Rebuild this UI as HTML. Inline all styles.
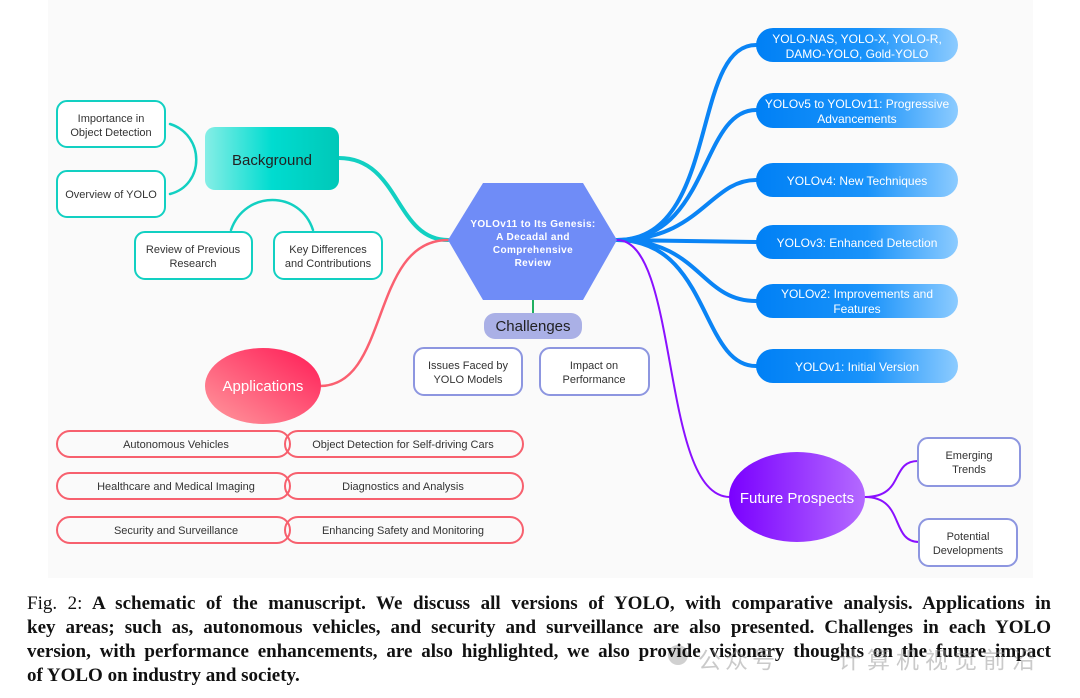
<!DOCTYPE html>
<html><head><meta charset="utf-8"><style>
body{margin:0;width:1080px;height:698px;background:#fff;overflow:hidden;position:relative;font-family:"Liberation Sans",sans-serif}
svg{position:absolute;left:0;top:0}
.cap{position:absolute;left:27px;width:1024px;font-family:"Liberation Serif",serif;font-size:19px;font-weight:bold;text-align:justify;text-align-last:justify;color:#111;white-space:nowrap;line-height:24px}
.wm{position:absolute;top:641px;font-family:"Liberation Sans","Noto Sans CJK SC",sans-serif;font-size:23px;color:rgba(150,150,150,0.5);letter-spacing:4px}
</style></head><body>
<svg width="1080" height="698" viewBox="0 0 1080 698" font-family="Liberation Sans, sans-serif">
<defs>
<linearGradient id="gT" x1="0" x2="1"><stop offset="0" stop-color="#86eee6"/><stop offset="0.5" stop-color="#00dcd0"/><stop offset="1" stop-color="#00c8b8"/></linearGradient>
<linearGradient id="gR" x1="0" y1="1" x2="1" y2="0"><stop offset="0" stop-color="#ff9a9e"/><stop offset="1" stop-color="#ff1a55"/></linearGradient>
<linearGradient id="gB" x1="0" x2="1"><stop offset="0" stop-color="#0080f5"/><stop offset="0.55" stop-color="#1a93fa"/><stop offset="1" stop-color="#8ccbff"/></linearGradient>
<linearGradient id="gP" x1="0" x2="1"><stop offset="0" stop-color="#7a00ff"/><stop offset="1" stop-color="#b46aff"/></linearGradient>
</defs>
<rect x="48" y="0" width="985" height="578" fill="#fafafa"/>
<g fill="none" stroke-linecap="round">
<path d="M339,158 C400,158 395,240 448,240" stroke="#12d0c2" stroke-width="4"/>
<path d="M448,240 C370,240 390,386 320,386" stroke="#fa6070" stroke-width="2.5"/>
<path d="M170,124 C205,135 205,185 170,194" stroke="#12d0c2" stroke-width="2.5"/>
<path d="M231,230 C245,190 300,190 313,230" stroke="#12d0c2" stroke-width="2.5"/>
<path d="M533,300 L533,313" stroke="#20b060" stroke-width="2"/>
<g stroke="#0a84f5" stroke-width="4">
<path d="M617,240 C720,240 690,45 756,45"/>
<path d="M617,240 C710,240 700,110 756,110"/>
<path d="M617,240 C700,240 710,180 756,180"/>
<path d="M617,240 L756,242"/>
<path d="M617,240 C700,240 700,301 756,301"/>
<path d="M617,240 C710,240 700,366 756,366"/>
</g>
<path d="M617,240 C680,240 660,497 730,497" stroke="#8a10ff" stroke-width="2"/>
<path d="M865,497 C905,497 890,461 918,461" stroke="#8a10ff" stroke-width="2"/>
<path d="M865,497 C905,497 890,542 919,542" stroke="#8a10ff" stroke-width="2"/>
</g>
<polygon points="448,240 483,183 583,183 617,240 583,300 483,300" fill="#6f8cf7"/>
<g fill="#fff" font-size="10" font-weight="bold" text-anchor="middle" letter-spacing="0.4">
<text x="533" y="227">YOLOv11 to Its Genesis:</text>
<text x="533" y="240">A Decadal and</text>
<text x="533" y="253">Comprehensive</text>
<text x="533" y="266">Review</text>
</g>
<rect x="205" y="127" width="134" height="63" rx="10" fill="url(#gT)"/>
<text x="272" y="165" font-size="15" text-anchor="middle" fill="#222">Background</text>
<g fill="#fff" stroke="#12d0c2" stroke-width="2">
<rect x="57" y="101" width="108" height="46" rx="10"/>
<rect x="57" y="171" width="108" height="46" rx="10"/>
<rect x="135" y="232" width="117" height="47" rx="10"/>
<rect x="274" y="232" width="108" height="47" rx="10"/>
</g>
<g font-size="11" fill="#333" text-anchor="middle">
<text x="111" y="122">Importance in</text><text x="111" y="136">Object Detection</text>
<text x="111" y="198">Overview of YOLO</text>
<text x="193" y="253">Review of Previous</text><text x="193" y="267">Research</text>
<text x="328" y="253">Key Differences</text><text x="328" y="267">and Contributions</text>
</g>
<rect x="484" y="313" width="98" height="26" rx="11" fill="#aab0e6"/>
<text x="533" y="331" font-size="15" text-anchor="middle" fill="#222">Challenges</text>
<g fill="#fff" stroke="#8d96e0" stroke-width="2">
<rect x="414" y="348" width="108" height="47" rx="10"/>
<rect x="540" y="348" width="109" height="47" rx="10"/>
</g>
<g font-size="11" fill="#333" text-anchor="middle">
<text x="468" y="369">Issues Faced by</text><text x="468" y="383">YOLO Models</text>
<text x="594" y="369">Impact on</text><text x="594" y="383">Performance</text>
</g>
<ellipse cx="263" cy="386" rx="58" ry="38" fill="url(#gR)"/>
<text x="263" y="391" font-size="15" text-anchor="middle" fill="#fff">Applications</text>
<g fill="none" stroke="#f7606e" stroke-width="2">
<rect x="57" y="431" width="233" height="26" rx="13"/><rect x="285" y="431" width="238" height="26" rx="13"/>
<rect x="57" y="473" width="233" height="26" rx="13"/><rect x="285" y="473" width="238" height="26" rx="13"/>
<rect x="57" y="517" width="233" height="26" rx="13"/><rect x="285" y="517" width="238" height="26" rx="13"/>
</g>
<g font-size="11" fill="#333" text-anchor="middle">
<text x="176" y="448">Autonomous Vehicles</text><text x="403" y="448">Object Detection for Self-driving Cars</text>
<text x="176" y="490">Healthcare and Medical Imaging</text><text x="403" y="490">Diagnostics and Analysis</text>
<text x="176" y="534">Security and Surveillance</text><text x="403" y="534">Enhancing Safety and Monitoring</text>
</g>
<g fill="url(#gB)">
<rect x="756" y="28" width="202" height="34" rx="17"/>
<rect x="756" y="93" width="202" height="35" rx="17"/>
<rect x="756" y="163" width="202" height="34" rx="17"/>
<rect x="756" y="225" width="202" height="34" rx="17"/>
<rect x="756" y="284" width="202" height="34" rx="17"/>
<rect x="756" y="349" width="202" height="34" rx="17"/>
</g>
<g font-size="12" fill="#fff" text-anchor="middle">
<text x="857" y="43">YOLO-NAS, YOLO-X, YOLO-R,</text><text x="857" y="58">DAMO-YOLO, Gold-YOLO</text>
<text x="857" y="108">YOLOv5 to YOLOv11: Progressive</text><text x="857" y="123">Advancements</text>
<text x="857" y="185">YOLOv4: New Techniques</text>
<text x="857" y="247">YOLOv3: Enhanced Detection</text>
<text x="857" y="298">YOLOv2: Improvements and</text><text x="857" y="313">Features</text>
<text x="857" y="371">YOLOv1: Initial Version</text>
</g>
<ellipse cx="797" cy="497" rx="68" ry="45" fill="url(#gP)"/>
<text x="797" y="503" font-size="15" text-anchor="middle" fill="#fff">Future Prospects</text>
<g fill="#fff" stroke="#8d96e0" stroke-width="2">
<rect x="918" y="438" width="102" height="48" rx="10"/>
<rect x="919" y="519" width="98" height="47" rx="10"/>
</g>
<g font-size="11" fill="#333" text-anchor="middle">
<text x="969" y="459">Emerging</text><text x="969" y="473">Trends</text>
<text x="968" y="540">Potential</text><text x="968" y="554">Developments</text>
</g>
<circle cx="678" cy="655" r="10" fill="rgba(150,150,150,0.45)"/>
</svg>
<div class="cap" style="top:592px"><span style="font-weight:normal">Fig. 2:</span> A schematic of the manuscript. We discuss all versions of YOLO, with comparative analysis. Applications in</div>
<div class="cap" style="top:616px">key areas; such as, autonomous vehicles, and security and surveillance are also presented. Challenges in each YOLO</div>
<div class="cap" style="top:640px">version, with performance enhancements, are also highlighted, we also provide visionary thoughts on the future impact</div>
<div class="cap" style="top:664px;text-align-last:left">of YOLO on industry and society.</div>
<div class="wm" style="left:698px">公众号</div>
<div class="wm" style="left:838px;letter-spacing:6px">计算机视觉前沿</div>
</body></html>
